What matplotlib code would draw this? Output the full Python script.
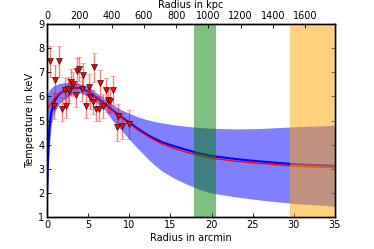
import numpy as np
import matplotlib
matplotlib.use("Agg")
import matplotlib.pyplot as plt

# measured temperature profile (arcmin, keV)
r_data = [0.4, 1.4, 1.0, 0.85, 1.85, 2.25, 2.2, 2.7, 2.9, 3.1, 2.6, 3.5, 3.7, 3.85,
          4.35, 4.25, 4.75, 5.1, 5.7, 5.25, 5.6, 5.95, 6.35, 6.5, 6.75, 7.2, 7.4,
          7.6, 8.05, 8.6, 8.5, 9.1, 9.95]
t_data = [7.45, 7.45, 6.7, 5.6, 5.47, 5.6, 6.25, 6.22, 6.6, 6.5, 6.3, 6.07, 7.05, 7.13,
          6.88, 6.3, 5.62, 6.37, 7.2, 5.97, 5.78, 5.48, 5.47, 6.55, 5.6, 6.25, 5.85,
          5.8, 6.25, 5.2, 4.72, 4.77, 4.85]
t_err = [0.65, 0.65, 0.6, 0.55, 0.5, 0.5, 0.5, 0.5, 0.55, 0.5, 0.5, 0.5, 0.55, 0.5,
         0.5, 0.5, 0.5, 0.55, 0.6, 0.5, 0.5, 0.5, 0.5, 0.55, 0.5, 0.5, 0.5,
         0.5, 0.6, 0.5, 0.55, 0.55, 0.6]

# model curves
r_mod = [0.0, 0.05, 0.1, 0.2, 0.3, 0.5, 0.75, 1.0, 1.5, 2.0, 3.0, 4.0, 5.0, 6.0, 7.0,
         8.0, 9.0, 10.0, 11.0, 12.0, 13.0, 14.0, 15.5, 17.0, 18.5, 20.0, 23.0, 26.0,
         30.0, 35.0]
t_blue = [1.9, 2.6, 3.2, 4.1, 4.7, 5.3, 5.65, 5.85, 6.1, 6.22, 6.35, 6.35, 6.2, 5.95, 5.7,
          5.42, 5.15, 4.92, 4.67, 4.45, 4.26, 4.1, 3.93, 3.78, 3.64, 3.53, 3.4, 3.3,
          3.19, 3.12]
t_red = [5.4, 5.45, 5.5, 5.55, 5.6, 5.7, 5.85, 5.95, 6.12, 6.25, 6.35, 6.35, 6.2, 5.95, 5.68,
         5.4, 5.12, 4.88, 4.62, 4.4, 4.2, 4.03, 3.84, 3.68, 3.55, 3.44, 3.31, 3.22,
         3.11, 3.04]
band_hi = [5.9, 6.0, 6.1, 6.2, 6.28, 6.35, 6.42, 6.47, 6.53, 6.56, 6.58, 6.53, 6.4, 6.15, 5.9,
           5.65, 5.45, 5.3, 5.16, 5.05, 4.96, 4.9, 4.82, 4.76, 4.71, 4.68, 4.65, 4.67,
           4.74, 4.8]
band_lo = [1.1, 1.8, 2.4, 3.3, 4.0, 4.8, 5.2, 5.4, 5.7, 5.85, 6.1, 6.15, 6.0, 5.75, 5.45,
           4.98, 4.62, 4.22, 3.85, 3.5, 3.17, 2.9, 2.6, 2.36, 2.15, 1.99, 1.83, 1.7,
           1.56, 1.45]

kpc_per_arcmin = 51.0
green_span = (17.85, 20.5)
orange_span = (29.5, 35.0)

fig = plt.figure(figsize=(3.74, 2.49), dpi=100)
ax = fig.add_axes([0.1257, 0.1285, 0.77, 0.775])

ax.fill_between(r_mod, band_lo, band_hi, color='blue', alpha=0.5, lw=0, zorder=1)
ax.plot(r_mod, t_blue, color='blue', lw=1.5, zorder=2)
ax.plot(r_mod, t_red, color='red', lw=1.0, zorder=3)
ax.errorbar(r_data, t_data, yerr=t_err, fmt='v', color='red', ecolor=(1, 0, 0, 0.5),
            elinewidth=1, capsize=2.5, ms=4.5, mec='black', mew=0.4, zorder=4)
ax.axvspan(*green_span, color='green', alpha=0.5, lw=0, zorder=5)
ax.axvspan(*orange_span, color='orange', alpha=0.5, lw=0, zorder=5)

ax.set_xlim(0, 35)
ax.set_ylim(1, 9)
ax.set_xlabel("Radius in arcmin", fontsize=7, labelpad=2)
ax.set_ylabel("Temperature in keV", fontsize=7, labelpad=2)
ax.tick_params(direction='in', labelsize=7, length=3, width=0.6, pad=2, right=True)

ax2 = ax.twiny()
ax2.set_xlim(0, 35 * kpc_per_arcmin)
ax2.set_xticks(np.arange(0, 1601, 200))
ax2.set_xlabel("Radius in kpc", fontsize=7, labelpad=2)
ax2.tick_params(direction='in', labelsize=7, length=3, width=0.6, pad=2)

for a in (ax, ax2):
    for s in a.spines.values():
        s.set_linewidth(1.0)

fig.savefig("out.png", dpi=100)
